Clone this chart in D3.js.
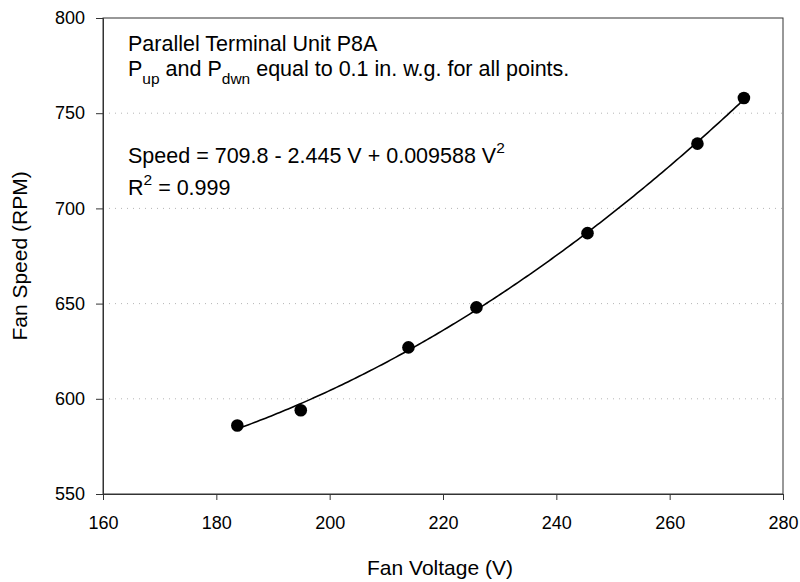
<!DOCTYPE html>
<html>
<head>
<meta charset="utf-8">
<script src="https://cdn.jsdelivr.net/npm/d3@7"></script>
<style>
  body { margin: 0; background: #fff; }
  svg { display: block; font-family: "Liberation Sans", Arial, sans-serif; }
</style>
</head>
<body>
<svg id="chart" width="800" height="582"></svg>
<script>
// Data
const voltage = [183.7, 194.9, 213.9, 225.9, 245.5, 264.9, 273.1];
const speed   = [586, 594, 627, 648, 687, 734, 758];
// Printed regression coefficients: Speed = a + b V + c V^2
const fitCoef = [709.8, -2.445, 0.009588];
const xTicks = [160, 180, 200, 220, 240, 260, 280];
const yTicks = [550, 600, 650, 700, 750, 800];
const gridTicks = [600, 650, 700, 750];

const svg = d3.select("#chart");
const m = {left: 103, right: 783, top: 18, bottom: 494};

const x = d3.scaleLinear().domain([160, 280]).range([m.left, m.right]);
const y = d3.scaleLinear().domain([550, 800]).range([m.bottom, m.top]);

// gridlines
svg.append("g").selectAll("line").data(gridTicks).join("line")
  .attr("x1", m.left).attr("x2", m.right)
  .attr("y1", d => y(d)).attr("y2", d => y(d))
  .attr("stroke", "#b5b5b5").attr("stroke-width", 1)
  .attr("stroke-dasharray", "1,5");

// frame
svg.append("rect").attr("x", m.left).attr("y", m.top)
  .attr("width", m.right - m.left).attr("height", m.bottom - m.top)
  .attr("fill", "none").attr("stroke", "#333").attr("stroke-width", 1);

// axes
const xAxis = svg.append("g").attr("transform", `translate(0,${m.bottom})`)
  .call(d3.axisBottom(x).tickValues(xTicks).tickSize(6).tickPadding(16).tickFormat(d3.format("d")));
const yAxis = svg.append("g").attr("transform", `translate(${m.left},0)`)
  .call(d3.axisLeft(y).tickValues(yTicks).tickSize(7).tickPadding(11).tickFormat(d3.format("d")));
[xAxis, yAxis].forEach(a => {
  a.select(".domain").attr("stroke", "#333");
  a.selectAll(".tick line").attr("stroke", "#333");
  a.selectAll(".tick text").attr("fill", "#000").style("font-size", "18px")
    .style("font-family", "'Liberation Sans', Arial, sans-serif");
});

// fit curve
const fitX = d3.range(d3.min(voltage), d3.max(voltage) + 0.01, 0.5);
if (fitX[fitX.length - 1] < d3.max(voltage)) fitX.push(d3.max(voltage));
const line = d3.line().x(d => x(d)).y(d => y(fitCoef[0] + fitCoef[1] * d + fitCoef[2] * d * d));
svg.append("path").datum(fitX).attr("d", line)
  .attr("fill", "none").attr("stroke", "#000").attr("stroke-width", 1.6);

// points
svg.append("g").selectAll("circle").data(voltage).join("circle")
  .attr("cx", d => x(d)).attr("cy", (d, i) => y(speed[i]))
  .attr("r", 6.3).attr("fill", "#000");

// annotations
const fs = 21.5, sub = 15.5;
const ann = svg.append("g").attr("font-size", fs + "px").attr("fill", "#000");
ann.append("text").attr("x", 128).attr("y", 51).text("Parallel Terminal Unit P8A");
const t2 = ann.append("text").attr("x", 128).attr("y", 75.5);
t2.append("tspan").text("P");
t2.append("tspan").attr("dy", 8).attr("font-size", sub + "px").text("up");
t2.append("tspan").attr("dy", -8).text(" and P");
t2.append("tspan").attr("dy", 8).attr("font-size", sub + "px").text("dwn");
t2.append("tspan").attr("dy", -8).text(" equal to 0.1 in. w.g. for all points.");

const t3 = ann.append("text").attr("x", 128).attr("y", 163);
t3.append("tspan").text("Speed = 709.8 - 2.445 V + 0.009588 V");
t3.append("tspan").attr("dy", -10).attr("font-size", sub + "px").text("2");
const t4 = ann.append("text").attr("x", 128).attr("y", 195);
t4.append("tspan").text("R");
t4.append("tspan").attr("dy", -10).attr("font-size", sub + "px").text("2");
t4.append("tspan").attr("dy", 10).text(" = 0.999");

// axis titles
svg.append("text").attr("x", (m.left + m.right) / 2 - 3).attr("y", 575)
  .attr("text-anchor", "middle").attr("font-size", "21px").text("Fan Voltage (V)");
svg.append("text").attr("transform", `translate(27,${(m.top + m.bottom) / 2}) rotate(-90)`)
  .attr("text-anchor", "middle").attr("font-size", "21px").text("Fan Speed (RPM)");
</script>
</body>
</html>
